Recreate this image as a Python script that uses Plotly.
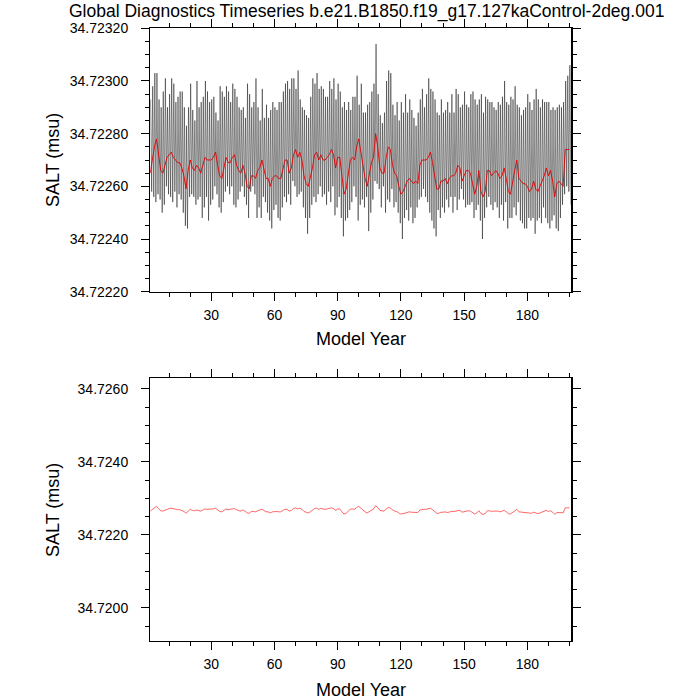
import plotly.graph_objects as go

# values are stored as offsets from BASE in units of 1e-5 msu
BASE = 34.7222
UNIT = 1e-5

years = list(range(1, 201))

# seasonal high / low of the monthly series, one pair per model year
salt_hi = [73, 78, 83, 83, 73, 70, 76, 81, 70, 75, 81, 79, 72, 74, 76, 76, 70, 63, 70, 79,
           69, 65, 80, 70, 72, 74, 80, 76, 72, 73, 74, 68, 65, 78, 76, 74, 78, 76, 72, 79,
           77, 74, 70, 69, 70, 66, 79, 75, 70, 72, 81, 70,
           65, 77, 66, 71, 66, 69, 72, 70, 69, 72, 72, 76, 79, 80, 77, 81, 81, 77, 84, 73,
           70, 69, 67, 66, 74, 81, 79, 83, 77, 78, 77, 74, 74, 80, 77, 81, 73, 79, 76, 70,
           72, 69, 72, 69, 74, 74, 82, 71, 79, 68,
           68, 71, 72, 76, 79, 94, 75, 67, 64, 68, 80, 84, 83, 71, 67, 72, 65, 72, 68, 75,
           68, 73, 69, 66, 63, 68, 73, 77, 70, 75, 81, 77, 76, 73, 68, 67, 73, 68, 69, 72,
           68, 75, 68, 77, 75, 70, 71, 76, 71, 70,
           75, 76, 73, 71, 73, 75, 68, 74, 73, 72, 72, 70, 69, 72, 71, 74, 80, 72, 71, 74,
           73, 78, 71, 70, 67, 69, 70, 75, 72, 69, 73, 77, 73, 70, 73, 72, 72, 72, 69, 70,
           69, 70, 71, 70, 72, 80, 82, 86]

salt_lo = [38, 36, 34, 37, 35, 30, 33, 40, 37, 36, 34, 38, 32, 37, 35, 30, 25, 24, 36, 37,
           36, 33, 35, 36, 28, 32, 36, 27, 33, 35, 40, 37, 32, 30, 34, 38, 40, 37, 40, 33,
           32, 35, 38, 40, 36, 33, 28, 38, 40, 37, 28, 32,
           28, 36, 34, 30, 27, 24, 31, 33, 28, 27, 32, 36, 34, 37, 33, 42, 40, 36, 37, 38,
           32, 28, 22, 28, 33, 36, 34, 37, 40, 36, 37, 33, 38, 34, 40, 29, 32, 36, 28, 21,
           27, 28, 31, 34, 40, 36, 27, 33, 35, 32,
           36, 23, 30, 35, 42, 41, 39, 32, 40, 30, 35, 34, 39, 32, 34, 30, 26, 20, 28, 31,
           27, 32, 26, 28, 32, 35, 36, 39, 36, 34, 30, 27, 24, 21, 31, 28, 32, 30, 35, 32,
           36, 30, 36, 31, 35, 39, 35, 32, 33, 33,
           34, 28, 31, 33, 27, 20, 28, 32, 36, 33, 31, 34, 32, 28, 33, 27, 34, 24, 28, 28,
           32, 29, 34, 27, 26, 24, 24, 28, 27, 28, 22, 27, 28, 26, 32, 28, 26, 24, 27, 29,
           24, 23, 28, 33, 37, 40, 38, 33]

# annual means
salt_ann = [45, 50, 55, 58, 52, 46, 45, 48, 51, 52, 53, 51, 50, 49, 49, 47, 44, 39, 46, 50,
            47, 46, 48, 47, 45, 48, 51, 50, 50, 50, 51, 53, 48, 44, 43, 47, 51, 49, 49, 51,
            52, 48, 46, 45, 48, 45, 40, 39, 44, 44, 43, 46,
            47, 50, 47, 43, 43, 40, 43, 44, 44, 43, 43, 47, 50, 50, 45, 47, 52, 54, 51, 53,
            50, 44, 41, 40, 43, 47, 52, 53, 50, 52, 50, 50, 51, 52, 54, 52, 47, 51, 51, 43,
            37, 39, 44, 50, 51, 50, 55, 58, 53, 47,
            43, 40, 44, 49, 51, 60, 55, 47, 45, 45, 51, 55, 54, 48, 45, 44, 40, 37, 38, 40,
            42, 43, 42, 41, 42, 41, 48, 50, 50, 50, 51, 53, 49, 44, 39, 39, 42, 42, 43, 41,
            43, 44, 44, 45, 48, 47, 42, 44, 46, 46,
            45, 41, 37, 40, 46, 38, 36, 38, 46, 46, 44, 45, 46, 45, 43, 44, 47, 43, 38, 37,
            42, 46, 50, 43, 42, 41, 41, 40, 38, 39, 42, 39, 38, 40, 42, 44, 47, 44, 46, 42,
            36, 41, 42, 41, 40, 54, 54, 54]


def to_salt(vals):
    return [round(BASE + v * UNIT, 7) for v in vals]


mon_x, mon_y = [], []
for yr, hi, lo in zip(years, to_salt(salt_hi), to_salt(salt_lo)):
    mon_x += [yr + 0.2, yr + 0.7]
    mon_y += [hi, lo]
ann = to_salt(salt_ann)

FONT = "Liberation Sans"
SIZE = 700


def px_x(px):
    return px / SIZE


def px_y(py):
    return 1 - py / SIZE


fig = go.Figure()
fig.add_trace(go.Scatter(x=mon_x, y=mon_y, mode="lines",
                         line=dict(color="black", width=0.45), xaxis="x", yaxis="y"))
fig.add_trace(go.Scatter(x=years, y=ann, mode="lines",
                         line=dict(color="#e00000", width=0.9), xaxis="x", yaxis="y"))
fig.add_trace(go.Scatter(x=years, y=ann, mode="lines",
                         line=dict(color="#ff4040", width=0.8), xaxis="x2", yaxis="y2"))

common = dict(showline=True, linecolor="black", linewidth=1.2, mirror="ticks",
              ticks="outside", ticklen=8, tickwidth=1, tickcolor="black",
              showgrid=False, zeroline=False, automargin=False,
              tickfont=dict(family=FONT, size=14, color="black"))
xcommon = dict(common, range=[1, 200.917], tick0=0, dtick=30,
               minor=dict(dtick=10, ticklen=4, ticks="outside", tickcolor="black"),
               domain=[px_x(150.2), px_x(571.4)], ticklabelstandoff=2)

fig.update_layout(
    width=SIZE, height=SIZE, autosize=False, showlegend=False, hovermode=False,
    margin=dict(l=0, r=0, t=0, b=0, pad=0),
    paper_bgcolor="white", plot_bgcolor="white",
    xaxis=dict(xcommon, anchor="y"),
    xaxis2=dict(xcommon, anchor="y2"),
    yaxis=dict(common, range=[34.7222, 34.7232], tick0=34.7222, dtick=0.0002,
               tickformat=".5f", domain=[px_y(291.7), px_y(28.3)], anchor="x",
               minor=dict(dtick=0.00005, ticklen=4, ticks="outside", tickcolor="black"),
               ticklabelstandoff=10),
    yaxis2=dict(common, range=[34.71909, 34.72629], tick0=34.72, dtick=0.002,
                tickformat=".4f", domain=[px_y(641), px_y(378.3)], anchor="x2",
                minor=dict(dtick=0.0005, ticklen=4, ticks="outside", tickcolor="black"),
                ticklabelstandoff=10),
)

labels = [
    dict(text="Global Diagnostics Timeseries b.e21.B1850.f19_g17.127kaControl-2deg.001",
         x=366, y=12, size=17.5, angle=0),
    dict(text="SALT (msu)", x=53, y=160, size=18, angle=-90),
    dict(text="SALT (msu)", x=53, y=510, size=18, angle=-90),
    dict(text="Model Year", x=361, y=339, size=18, angle=0),
    dict(text="Model Year", x=361, y=690, size=18, angle=0),
]
for lab in labels:
    fig.add_annotation(text=lab["text"], x=px_x(lab["x"]), y=px_y(lab["y"]),
                       xref="paper", yref="paper",
                       xanchor="center", yanchor="middle", showarrow=False,
                       textangle=lab["angle"],
                       font=dict(family=FONT, size=lab["size"], color="black"))

# drop the browser's default body margin so the 700px figure fills the window
fig.write_html("out.html", config={"displayModeBar": False, "staticPlot": True},
               post_script="document.body.style.margin = '0px';")
